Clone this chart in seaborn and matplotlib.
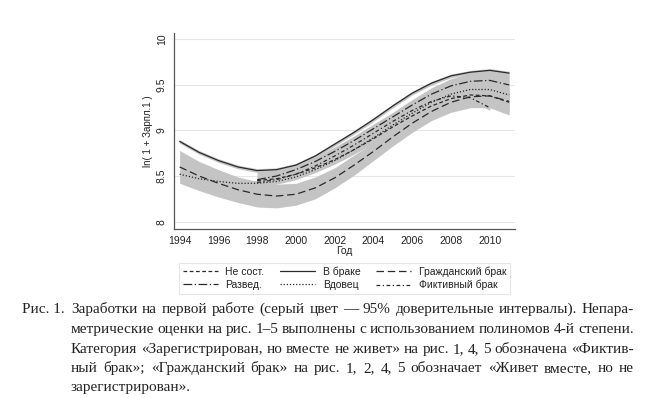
import matplotlib
matplotlib.use('Agg')
import matplotlib.pyplot as plt
from matplotlib.lines import Line2D
import pandas as pd
import seaborn as sns

# годы наблюдений
years_all = list(range(1994, 2012))
years_98 = list(range(1998, 2012))
years_fict = list(range(1998, 2011))

# оценки ln(1 + Зарпл.1)
v_married = [8.88, 8.76, 8.67, 8.60, 8.56, 8.57, 8.62, 8.72, 8.85, 8.98, 9.12,
             9.27, 9.41, 9.52, 9.60, 9.64, 9.66, 9.63]
v_civil = [8.60, 8.50, 8.42, 8.35, 8.30, 8.28, 8.30, 8.37, 8.48, 8.62, 8.77,
           8.93, 9.08, 9.21, 9.31, 9.37, 9.38, 9.32]
v_widow = [8.52, 8.47, 8.44, 8.42, 8.42, 8.44, 8.49, 8.57, 8.67, 8.79, 8.92,
           9.06, 9.19, 9.31, 9.40, 9.45, 9.45, 9.39]
v_single = [8.45, 8.47, 8.52, 8.59, 8.68, 8.79, 8.91, 9.04, 9.16, 9.27, 9.35,
            9.39, 9.38, 9.31]
v_divorced = [8.46, 8.50, 8.57, 8.66, 8.77, 8.89, 9.02, 9.15, 9.28, 9.40, 9.49,
              9.54, 9.55, 9.50]
v_fict = [8.43, 8.46, 8.52, 8.61, 8.72, 8.84, 8.97, 9.10, 9.22, 9.32, 9.38,
          9.36, 9.25]

# полуширина 95% доверительных интервалов
ci_married = [0.02] * 18
ci_civil = [0.18, 0.16, 0.15, 0.14, 0.14, 0.13, 0.12, 0.12, 0.11, 0.11, 0.10,
            0.10, 0.10, 0.10, 0.11, 0.12, 0.13, 0.15]
ci_widow = [0.03] * 18
ci_single = [0.06, 0.05, 0.05, 0.05, 0.05, 0.05, 0.05, 0.05, 0.05, 0.06,
             0.07, 0.08, 0.09, 0.10]
ci_divorced = [0.10, 0.07, 0.06, 0.05, 0.05, 0.05, 0.05, 0.05, 0.06, 0.07,
               0.08, 0.09, 0.10, 0.12]
ci_fict = [0.03] * 13

series = [
    ('Не сост.', years_98, v_single, ci_single, (0, (3, 2))),
    ('Развед.', years_98, v_divorced, ci_divorced, (0, (7, 2, 1, 2))),
    ('В браке', years_all, v_married, ci_married, '-'),
    ('Вдовец', years_all, v_widow, ci_widow, (0, (1, 1.5))),
    ('Гражданский брак', years_all, v_civil, ci_civil, (0, (6, 3))),
    ('Фиктивный брак', years_fict, v_fict, ci_fict, (0, (3, 2, 1, 2))),
]

sns.set_style('white')
plt.rcParams['font.family'] = ['Liberation Sans', 'DejaVu Sans']

fig = plt.figure(figsize=(6.56, 3.98), dpi=100)
ax = fig.add_axes([0.265, 0.425, 0.52, 0.492])

for name, yrs, vals, ci, ls in series:
    lo = [v - c for v, c in zip(vals, ci)]
    hi = [v + c for v, c in zip(vals, ci)]
    ax.fill_between(yrs, lo, hi, color='#c4c4c4', lw=0)

for name, yrs, vals, ci, ls in series:
    df = pd.DataFrame({'year': yrs, 'val': vals})
    sns.lineplot(data=df, x='year', y='val', ax=ax, color='#2a2a2a',
                 lw=0.9, linestyle=ls)

ax.set_xlim(1993.7, 2011.3)
ax.set_ylim(7.92, 10.07)
ax.set_xticks(range(1994, 2011, 2))
ax.set_yticks([8, 8.5, 9, 9.5, 10])
ax.set_yticklabels(['8', '8.5', '9', '9.5', '10'], rotation=90, va='center')
ax.tick_params(labelsize=7.5, length=3, color='#555555', pad=2,
               direction='out', labelcolor='#222222')
ax.yaxis.grid(True, color='#e6e6e6', lw=0.8)
ax.set_axisbelow(True)
for s in ['top', 'right']:
    ax.spines[s].set_visible(False)
for s in ['left', 'bottom']:
    ax.spines[s].set_color('#555555')
    ax.spines[s].set_linewidth(0.9)
ax.set_xlabel('Год', fontsize=7.5, labelpad=0.5, color='#222222')
ax.set_ylabel('ln( 1 + Зарпл.1 )', fontsize=7, labelpad=3, color='#222222')

handles = [Line2D([], [], color='#2a2a2a', lw=0.9, linestyle=ls)
           for name, yrs, vals, ci, ls in series]
labels = [name for name, yrs, vals, ci, ls in series]
leg = fig.legend(handles, labels, ncol=3, fontsize=7.5, frameon=True,
                 loc='upper left', bbox_to_anchor=(179 / 656, 1 - 263 / 398),
                 borderaxespad=0, handlelength=3.4, handletextpad=0.7,
                 columnspacing=1.5, borderpad=0.35, labelspacing=0.25,
                 fancybox=False)
leg.get_frame().set_edgecolor('#e0e0e0')
leg.get_frame().set_linewidth(0.8)
for t in leg.get_texts():
    t.set_color('#222222')

# подпись к рисунку, выровненная по ширине
W, H = 656, 398
cap_font = dict(fontsize=11, family='Liberation Serif', color='#222222',
                va='baseline')
caption = [
    'Заработки на первой работе (серый цвет — 95% доверительные интервалы). Непара-',
    'метрические оценки на рис. 1–5 выполнены с использованием полиномов 4-й степени.',
    'Категория «Зарегистрирован, но вместе не живет» на рис. 1, 4, 5 обозначена «Фиктив-',
    'ный брак»; «Гражданский брак» на рис. 1, 2, 4, 5 обозначает «Живет вместе, но не',
    'зарегистрирован».',
]
baselines = [313, 333, 353, 372, 391]
x_left, x_right = 71, 634
fig.text(22 / W, 1 - baselines[0] / H, 'Рис. 1.', **cap_font)
renderer = fig.canvas.get_renderer()
for i, (line, yb) in enumerate(zip(caption, baselines)):
    words = line.split(' ')
    texts = [fig.text(0, 1 - yb / H, w, **cap_font) for w in words]
    widths = [t.get_window_extent(renderer).width for t in texts]
    if i < len(caption) - 1:
        gap = (x_right - x_left - sum(widths)) / (len(words) - 1)
    else:
        gap = 3.5
    x = x_left
    for t, w in zip(texts, widths):
        t.set_x(x / W)
        x += w + gap

fig.savefig('out.png', dpi=100)
